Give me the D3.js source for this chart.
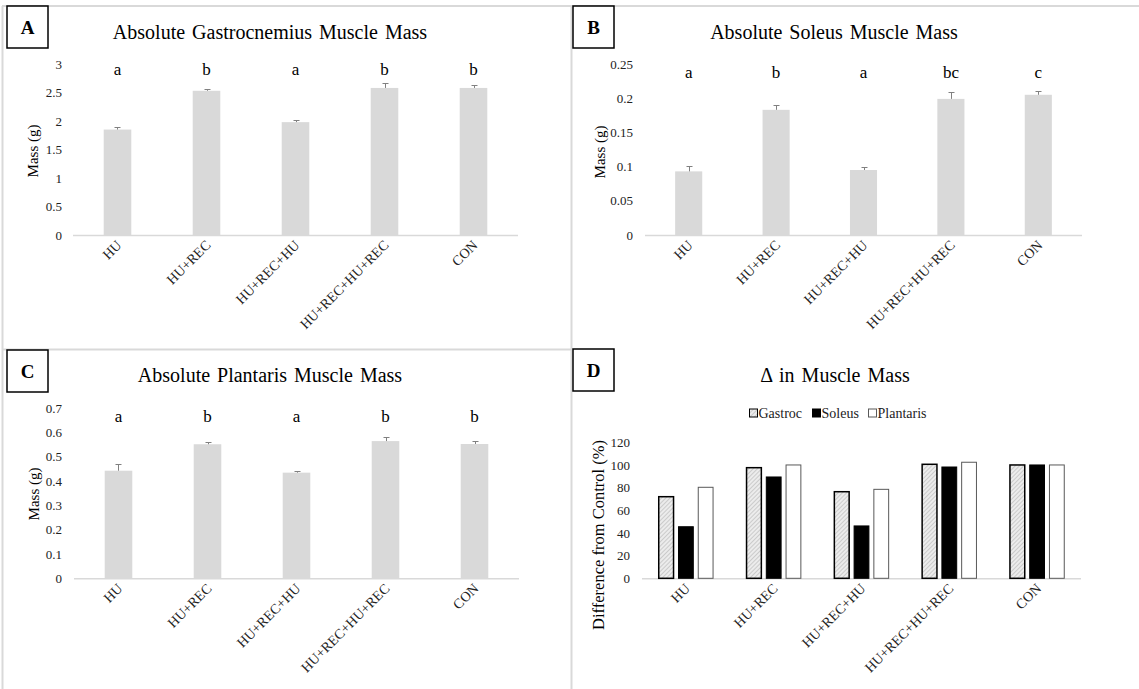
<!DOCTYPE html>
<html lang="en">
<head>
<meta charset="utf-8">
<script src="https://d3js.org/d3.v7.min.js"></script>
<title>Muscle mass panels</title>
<style>
    body { margin: 0; background: #fff; }
    svg text { font-family: "Liberation Serif", "Times New Roman", serif; fill: #000; }
    .tick-label { font-size: 13px; fill: #222; }
    .cat-label { font-size: 14px; fill: #222; }
    .panel-title { font-size: 20px; word-spacing: 2px; }
    .sig { font-size: 17px; }
    .frame { stroke: #d9d9d9; stroke-width: 2; }
</style>
</head>
<body>
<svg id="chart" width="1139" height="689"></svg>
<script>
    // data
    const groups = ["HU", "HU+REC", "HU+REC+HU", "HU+REC+HU+REC", "CON"];

    const gastrocMass = [1.85, 2.53, 1.98, 2.58, 2.58];
    const gastrocErr = [0.05, 0.04, 0.04, 0.08, 0.05];
    const gastrocLetters = ["a", "b", "a", "b", "b"];
    const gastrocTicks = [0, 0.5, 1, 1.5, 2, 2.5, 3];

    const soleusMass = [0.093, 0.183, 0.095, 0.199, 0.205];
    const soleusErr = [0.008, 0.007, 0.005, 0.010, 0.006];
    const soleusLetters = ["a", "b", "a", "bc", "c"];
    const soleusTicks = [0, 0.05, 0.1, 0.15, 0.2, 0.25];

    const plantarisMass = [0.443, 0.552, 0.435, 0.565, 0.553];
    const plantarisErr = [0.026, 0.010, 0.008, 0.017, 0.011];
    const plantarisLetters = ["a", "b", "a", "b", "b"];
    const plantarisTicks = [0, 0.1, 0.2, 0.3, 0.4, 0.5, 0.6, 0.7];

    const deltaSeries = ["Gastroc", "Soleus", "Plantaris"];
    const deltaGastroc = [72, 97.6, 76.4, 100.6, 100];
    const deltaSoleus = [45.5, 89.4, 46.2, 98.2, 100];
    const deltaPlantaris = [80.3, 100, 78.5, 102.4, 100];
    const deltaTicks = [0, 20, 40, 60, 80, 100, 120];

    const svg = d3.select("#chart");

    // hatch for gastroc bars in panel D
    const pat = svg.append("defs").append("pattern")
        .attr("id", "hatch")
        .attr("patternUnits", "userSpaceOnUse")
        .attr("width", 3)
        .attr("height", 3)
        .attr("patternTransform", "rotate(45)");
    pat.append("rect").attr("width", 3).attr("height", 3).attr("fill", "#ececec");
    pat.append("line").attr("x1", 0).attr("y1", 0).attr("x2", 0).attr("y2", 3)
        .attr("stroke", "#bdbdbd").attr("stroke-width", 1.4);

    // panel frames
    const frames = [
        [2, 6, 1139, 6],
        [2.5, 6, 2.5, 689],
        [571.5, 6, 571.5, 689],
        [2, 349.5, 571.5, 349.5]
    ];
    svg.selectAll(".frame")
        .data(frames)
        .enter().append("line")
        .attr("class", "frame")
        .attr("x1", d => d[0]).attr("y1", d => d[1])
        .attr("x2", d => d[2]).attr("y2", d => d[3]);

    function panelBox(x, y, letter) {
        svg.append("rect")
            .attr("x", x).attr("y", y)
            .attr("width", 41).attr("height", 42)
            .attr("fill", "#fff")
            .attr("stroke", "#000")
            .attr("stroke-width", 1.5);
        svg.append("text")
            .attr("x", x + 20.5).attr("y", y + 28)
            .attr("text-anchor", "middle")
            .style("font-size", "19px")
            .style("font-weight", "bold")
            .text(letter);
    }

    function drawAxes(p, x, y, ticks) {
        const g = svg.append("g");
        g.selectAll(".tick-label")
            .data(ticks)
            .enter().append("text")
            .attr("class", "tick-label")
            .attr("x", p.tickX)
            .attr("y", d => y(d))
            .attr("dy", "0.35em")
            .attr("text-anchor", "end")
            .text(d => d);

        g.append("line")
            .attr("x1", p.xRange[0]).attr("x2", p.xRange[1])
            .attr("y1", p.yRange[0] + 0.5).attr("y2", p.yRange[0] + 0.5)
            .attr("stroke", "#d9d9d9")
            .attr("stroke-width", 1.5);

        g.selectAll(".cat-label")
            .data(groups)
            .enter().append("text")
            .attr("class", "cat-label")
            .attr("text-anchor", "end")
            .attr("transform", d => `translate(${x(d) + x.bandwidth() / 2 + 5},${p.yRange[0] + 11}) rotate(-45)`)
            .text(d => d);

        svg.append("text")
            .attr("class", "panel-title")
            .attr("x", p.titleX).attr("y", p.titleY)
            .attr("text-anchor", "middle")
            .text(p.title);

        svg.append("text")
            .attr("transform", `translate(${p.yLabelX},${p.yLabelY}) rotate(-90)`)
            .attr("text-anchor", "middle")
            .attr("dy", "0.35em")
            .style("font-size", p.yLabelSize + "px")
            .text(p.yLabel);

        panelBox(p.boxX, p.boxY, p.letter);
    }

    function massPanel(p) {
        const x = d3.scaleBand()
            .domain(groups)
            .range(p.xRange)
            .paddingInner(0.69)
            .paddingOuter(0.345);
        const y = d3.scaleLinear()
            .domain([0, p.ticks[p.ticks.length - 1]])
            .range(p.yRange);

        drawAxes(p, x, y, p.ticks);

        const g = svg.append("g");
        g.selectAll(".bar")
            .data(groups)
            .enter().append("rect")
            .attr("x", d => x(d))
            .attr("width", x.bandwidth())
            .attr("y", (d, i) => y(p.values[i]))
            .attr("height", (d, i) => y(0) - y(p.values[i]))
            .attr("fill", "#d9d9d9");

        // upper error bars
        g.selectAll(".err")
            .data(groups)
            .enter().append("path")
            .attr("fill", "none")
            .attr("stroke", "#808080")
            .attr("stroke-width", 1)
            .attr("d", (d, i) => {
                const cx = Math.round(x(d) + x.bandwidth() / 2) + 0.5;
                const top = Math.round(y(p.values[i] + p.errors[i])) + 0.5;
                const base = y(p.values[i]);
                return `M${cx},${base}V${top}M${cx - 3},${top}H${cx + 3}`;
            });

        g.selectAll(".sig")
            .data(groups)
            .enter().append("text")
            .attr("class", "sig")
            .attr("x", d => x(d) + x.bandwidth() / 2)
            .attr("y", p.letterY)
            .attr("text-anchor", "middle")
            .text((d, i) => p.letters[i]);
    }

    massPanel({
        title: "Absolute Gastrocnemius Muscle Mass", titleX: 270, titleY: 39,
        letter: "A", boxX: 7, boxY: 6,
        values: gastrocMass, errors: gastrocErr, letters: gastrocLetters, ticks: gastrocTicks,
        xRange: [73, 518], yRange: [235, 64], tickX: 62, letterY: 75,
        yLabel: "Mass (g)", yLabelX: 33, yLabelY: 151, yLabelSize: 15
    });

    massPanel({
        title: "Absolute Soleus Muscle Mass", titleX: 834, titleY: 39,
        letter: "B", boxX: 573, boxY: 6,
        values: soleusMass, errors: soleusErr, letters: soleusLetters, ticks: soleusTicks,
        xRange: [645, 1082], yRange: [235, 64], tickX: 633, letterY: 78,
        yLabel: "Mass (g)", yLabelX: 600, yLabelY: 152, yLabelSize: 15
    });

    massPanel({
        title: "Absolute Plantaris Muscle Mass", titleX: 270, titleY: 382,
        letter: "C", boxX: 7, boxY: 350,
        values: plantarisMass, errors: plantarisErr, letters: plantarisLetters, ticks: plantarisTicks,
        xRange: [74, 519], yRange: [578.3, 408.3], tickX: 62, letterY: 421.5,
        yLabel: "Mass (g)", yLabelX: 34, yLabelY: 494, yLabelSize: 15
    });

    // panel D: grouped bars, % of control
    const pD = {
        title: "\u0394 in Muscle Mass", titleX: 835, titleY: 382,
        letter: "D", boxX: 573, boxY: 349,
        xRange: [642, 1081], yRange: [578.3, 442.3], tickX: 630,
        yLabel: "Difference from Control (%)", yLabelX: 598, yLabelY: 535, yLabelSize: 16.5
    };
    const deltaRows = groups.map((gName, i) => ({
        group: gName,
        vals: [deltaGastroc[i], deltaSoleus[i], deltaPlantaris[i]]
    }));
    const x0 = d3.scaleBand()
        .domain(groups)
        .range(pD.xRange)
        .paddingInner(0.37)
        .paddingOuter(0.185);
    const x1 = d3.scaleBand()
        .domain(deltaSeries)
        .range([0, x0.bandwidth()])
        .paddingInner(0.2);
    const yD = d3.scaleLinear()
        .domain([0, 120])
        .range(pD.yRange);

    drawAxes(pD, x0, yD, deltaTicks);

    const seriesFill = { Gastroc: "url(#hatch)", Soleus: "#000", Plantaris: "#fff" };
    const seriesStroke = { Gastroc: "#000", Soleus: "#000", Plantaris: "#595959" };
    const seriesWidth = { Gastroc: 1.5, Soleus: 1, Plantaris: 1 };

    const gD = svg.append("g");
    gD.selectAll(".grp")
        .data(deltaRows)
        .enter().append("g")
        .attr("transform", d => `translate(${x0(d.group)},0)`)
        .selectAll("rect")
        .data(d => deltaSeries.map((s, j) => ({ s: s, v: d.vals[j] })))
        .enter().append("rect")
        .attr("x", d => x1(d.s) + 0.5)
        .attr("width", x1.bandwidth() - 1)
        .attr("y", d => yD(d.v))
        .attr("height", d => yD(0) - yD(d.v))
        .attr("fill", d => seriesFill[d.s])
        .attr("stroke", d => seriesStroke[d.s])
        .attr("stroke-width", d => seriesWidth[d.s]);

    // legend
    const legendX = [749, 812, 868];
    const legend = svg.append("g");
    const item = legend.selectAll(".leg")
        .data(deltaSeries)
        .enter().append("g")
        .attr("transform", (d, i) => `translate(${legendX[i]},413)`);
    item.append("rect")
        .attr("x", 0.5).attr("y", -4)
        .attr("width", 8).attr("height", 8)
        .attr("fill", d => seriesFill[d])
        .attr("stroke", d => seriesStroke[d])
        .attr("stroke-width", 1);
    item.append("text")
        .attr("x", 9.5)
        .attr("dy", "0.35em")
        .style("font-size", "14px")
        .style("fill", "#222")
        .text(d => d);
</script>
</body>
</html>
